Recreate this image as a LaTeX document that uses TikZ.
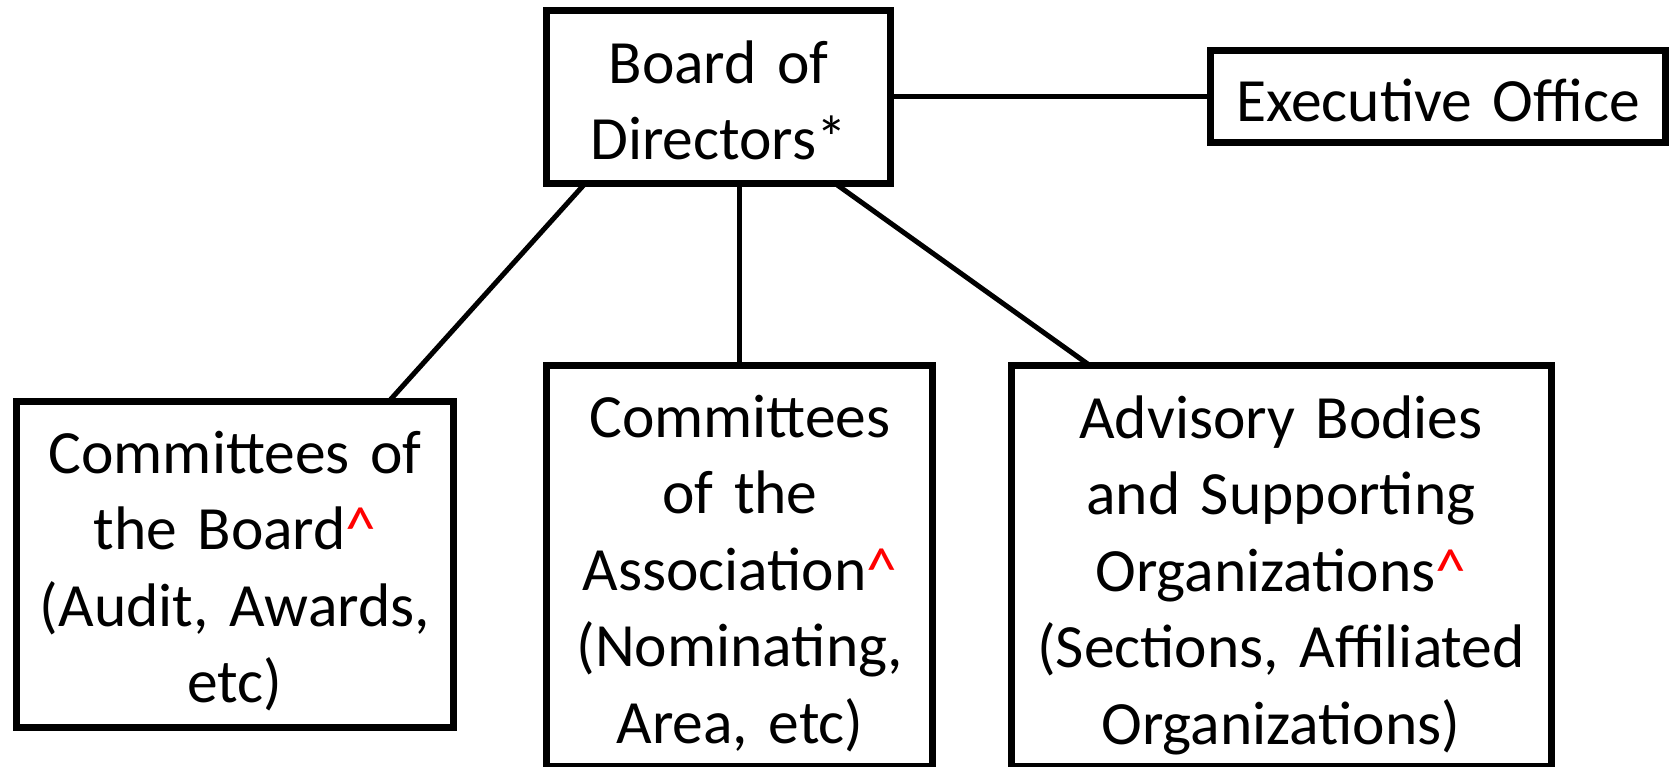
\documentclass[tikz,border=0pt]{standalone}
\usepackage{fontspec}
\setmainfont{Carlito}
\usetikzlibrary{calc}
\definecolor{caretred}{RGB}{255,0,0}
\newcommand{\crt}{\textcolor{caretred}{\textasciicircum}}
\begin{document}
\begin{tikzpicture}[x=1pt,y=-1pt,
  box/.style={draw=black, line width=7pt, rectangle, inner sep=0pt, outer sep=0pt},
  link/.style={draw=black, line width=5pt},
  txt/.style={inner sep=0pt, outer sep=0pt, align=center, text width=560pt, anchor=base, font=\fontsize{61.5}{76.5}\selectfont}
]
\useasboundingbox (0,0) rectangle (1672,766);
% boxes
\node[box, minimum width=343.8pt, minimum height=172.5pt] (board) at (718.6,96.75) {};
\node[box, minimum width=455pt, minimum height=92.5pt] (exec) at (1438,96.25) {};
\node[box, minimum width=437.5pt, minimum height=326pt] (cotb) at (234.75,564.5) {};
\node[box, minimum width=386pt, minimum height=401pt] (cota) at (739.5,566) {};
\node[box, minimum width=540pt, minimum height=401pt] (adv) at (1281,566) {};
% texts
\node[txt] (tboard) at (718.6,83) {Board of\\Directors*};
\node[txt] (texec) at (1438,121) {Executive Office};
\node[txt] (tcotb) at (235,473) {Committees of\\the Board\crt\\(Audit, Awards,\\etc)};
\node[txt] (tcota) at (740,437) {Committees\\of the\\Association\crt\\(Nominating,\\Area, etc)};
\node[txt] (tadv) at (1281,438) {Advisory Bodies\\and Supporting\\Organizations\crt\\(Sections, Affiliated\\Organizations)};
% connectors
\draw[link] ($(board.south west)!0.113!(board.south east)$) -- ($(cotb.north west)!0.852!(cotb.north east)$);
\draw[link] (cota.north) -- (cota.north |- board.south);
\draw[link] ($(board.south west)!0.837!(board.south east)$) -- ($(adv.north west)!0.146!(adv.north east)$);
\draw[link] (board.east) -- (exec.west |- board.east);
\end{tikzpicture}
\end{document}
